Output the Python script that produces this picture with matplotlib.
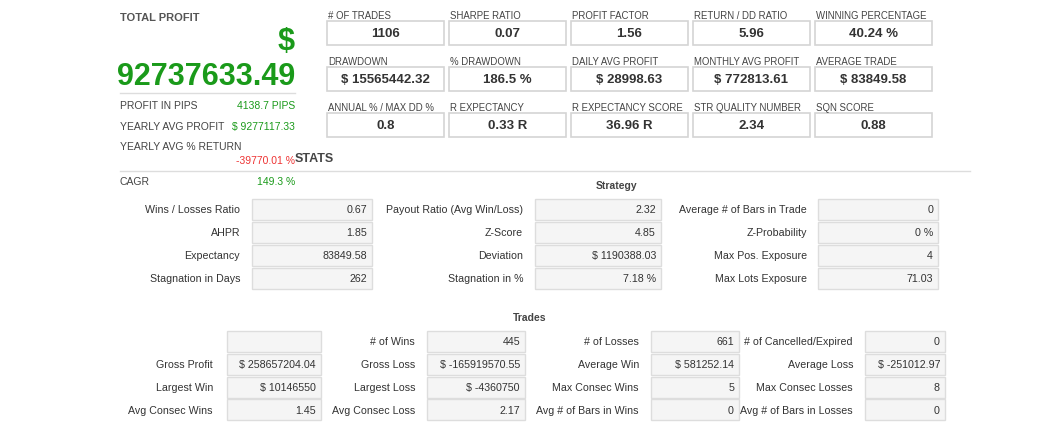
import matplotlib
matplotlib.use("Agg")
import matplotlib.pyplot as plt
from matplotlib.patches import Rectangle

plt.rcParams["font.family"] = "Liberation Sans"

top_labels = ["# OF TRADES", "SHARPE RATIO", "PROFIT FACTOR", "RETURN / DD RATIO", "WINNING PERCENTAGE",
              "DRAWDOWN", "% DRAWDOWN", "DAILY AVG PROFIT", "MONTHLY AVG PROFIT", "AVERAGE TRADE",
              "ANNUAL % / MAX DD %", "R EXPECTANCY", "R EXPECTANCY SCORE", "STR QUALITY NUMBER", "SQN SCORE"]
top_values = ["1106", "0.07", "1.56", "5.96", "40.24 %",
              "$ 15565442.32", "186.5 %", "$ 28998.63", "$ 772813.61", "$ 83849.58",
              "0.8", "0.33 R", "36.96 R", "2.34", "0.88"]

left_labels = ["PROFIT IN PIPS", "YEARLY AVG PROFIT"]
left_values = ["4138.7 PIPS", "$ 9277117.33"]
total_profit = "92737633.49"
yearly_return = "-39770.01 %"
cagr = "149.3 %"

strat_labels = [["Wins / Losses Ratio", "Payout Ratio (Avg Win/Loss)", "Average # of Bars in Trade"],
                ["AHPR", "Z-Score", "Z-Probability"],
                ["Expectancy", "Deviation", "Max Pos. Exposure"],
                ["Stagnation in Days", "Stagnation in %", "Max Lots Exposure"]]
strat_values = [["0.67", "2.32", "0"],
                ["1.85", "4.85", "0 %"],
                ["83849.58", "$ 1190388.03", "4"],
                ["262", "7.18 %", "71.03"]]

trade_labels = [["", "# of Wins", "# of Losses", "# of Cancelled/Expired"],
                ["Gross Profit", "Gross Loss", "Average Win", "Average Loss"],
                ["Largest Win", "Largest Loss", "Max Consec Wins", "Max Consec Losses"],
                ["Avg Consec Wins", "Avg Consec Loss", "Avg # of Bars in Wins", "Avg # of Bars in Losses"]]
trade_values = [["", "445", "661", "0"],
                ["$ 258657204.04", "$ -165919570.55", "$ 581252.14", "$ -251012.97"],
                ["$ 10146550", "$ -4360750", "5", "8"],
                ["1.45", "2.17", "0", "0"]]

fig = plt.figure(figsize=(10.59, 4.39), dpi=100)
ax = fig.add_axes([0, 0, 1, 1])
ax.set_xlim(0, 1059)
ax.set_ylim(439, 0)
ax.axis("off")

TXT = "#444444"
GREEN = "#1a9a1a"
RED = "#ee3333"

# left block
ax.text(120, 18, "TOTAL PROFIT", fontsize=8, fontweight="bold", color="#555555", va="center")
ax.text(295, 42, "$", fontsize=22, fontweight="bold", color=GREEN, ha="right", va="center")
ax.text(295, 77, total_profit, fontsize=22, fontweight="bold", color=GREEN, ha="right", va="center")
ax.plot([120, 295], [94, 94], color="#dddddd", lw=1)
for i, (l, v) in enumerate(zip(left_labels, left_values)):
    y = 106 + i * 21
    ax.text(120, y, l, fontsize=7.5, color=TXT, va="center")
    ax.text(295, y, v, fontsize=7.5, color=GREEN, ha="right", va="center")
ax.text(120, 147, "YEARLY AVG % RETURN", fontsize=7.5, color=TXT, va="center")
ax.text(295, 161, yearly_return, fontsize=7.5, color=RED, ha="right", va="center")
ax.text(295, 159, "STATS", fontsize=9, fontweight="bold", color="#444444", va="center")
ax.plot([120, 970], [172, 172], color="#dddddd", lw=1)
ax.text(120, 182, "CAGR", fontsize=7.5, color=TXT, va="center")
ax.text(295, 182, cagr, fontsize=7.5, color=GREEN, ha="right", va="center")

# top metric boxes
for i, (l, v) in enumerate(zip(top_labels, top_values)):
    r, c = divmod(i, 5)
    x = 327 + c * 122
    y = 22 + r * 46
    ax.text(x + 1, y - 6, l, fontsize=6.9, color=TXT, va="center")
    ax.add_patch(Rectangle((x, y), 117, 24, facecolor="white", edgecolor="#d4d4d4", lw=1.2))
    ax.text(x + 58.5, y + 12, v, fontsize=9.5, fontweight="bold", color="#333333", ha="center", va="center")

# strategy
ax.text(617, 186, "Strategy", fontsize=7.5, fontweight="bold", color=TXT, ha="center", va="center")
s_lab_r = [240, 523, 807]
s_box = [(252, 120), (535, 126), (818, 120)]
for r in range(4):
    y = 210 + r * 23
    for c in range(3):
        ax.text(s_lab_r[c], y, strat_labels[r][c], fontsize=7.7, color="#333333", ha="right", va="center")
        bx, bw = s_box[c]
        ax.add_patch(Rectangle((bx, y - 10.5), bw, 21, facecolor="#f5f5f5", edgecolor="#dddddd", lw=1))
        ax.text(bx + bw - 5, y, strat_values[r][c], fontsize=7.7, color="#333333", ha="right", va="center")

# trades
ax.text(530, 318, "Trades", fontsize=7.5, fontweight="bold", color=TXT, ha="center", va="center")
t_lab_r = [213, 415, 639, 853]
t_box = [(227, 94), (427, 98), (651, 88), (865, 80)]
for r in range(4):
    y = 342 + r * 23
    for c in range(4):
        ax.text(t_lab_r[c], y, trade_labels[r][c], fontsize=7.7, color="#333333", ha="right", va="center")
        bx, bw = t_box[c]
        ax.add_patch(Rectangle((bx, y - 10.5), bw, 21, facecolor="#f5f5f5", edgecolor="#dddddd", lw=1))
        ax.text(bx + bw - 5, y, trade_values[r][c], fontsize=7.7, color="#333333", ha="right", va="center")

fig.savefig("out.png", dpi=100)
